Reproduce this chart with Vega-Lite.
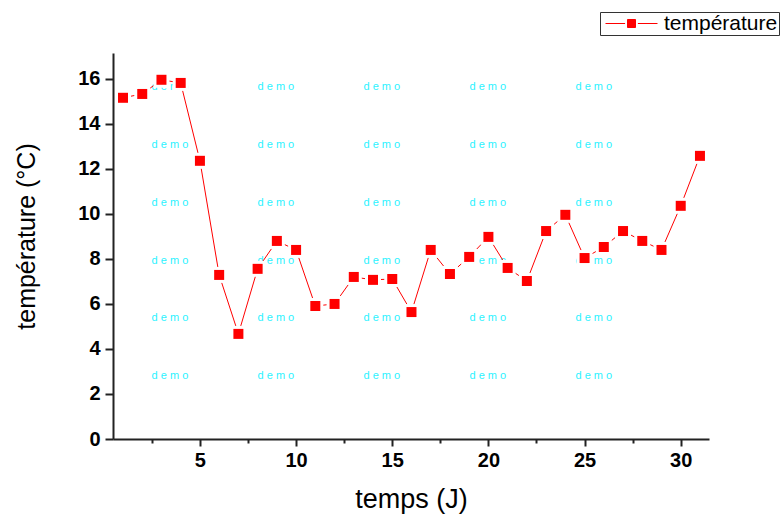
{
  "$schema": "https://vega.github.io/schema/vega-lite/v6.json",
  "width": 596,
  "height": 386,
  "autosize": {"type": "none"},
  "padding": {"left": 113, "top": 53, "right": 74, "bottom": 80},
  "background": "white",
  "config": {"view": {"stroke": null}, "font": "Liberation Sans"},
  "datasets": {
    "temp": [
      {"jour": 1, "t": 15.16}, {"jour": 2, "t": 15.33}, {"jour": 3, "t": 15.96}, {"jour": 4, "t": 15.82},
      {"jour": 5, "t": 12.36}, {"jour": 6, "t": 7.29}, {"jour": 7, "t": 4.67}, {"jour": 8, "t": 7.56},
      {"jour": 9, "t": 8.8}, {"jour": 10, "t": 8.4}, {"jour": 11, "t": 5.91}, {"jour": 12, "t": 6.0},
      {"jour": 13, "t": 7.2}, {"jour": 14, "t": 7.07}, {"jour": 15, "t": 7.11}, {"jour": 16, "t": 5.64},
      {"jour": 17, "t": 8.4}, {"jour": 18, "t": 7.33}, {"jour": 19, "t": 8.09}, {"jour": 20, "t": 8.98},
      {"jour": 21, "t": 7.6}, {"jour": 22, "t": 7.02}, {"jour": 23, "t": 9.24}, {"jour": 24, "t": 9.96},
      {"jour": 25, "t": 8.04}, {"jour": 26, "t": 8.53}, {"jour": 27, "t": 9.24}, {"jour": 28, "t": 8.8},
      {"jour": 29, "t": 8.4}, {"jour": 30, "t": 10.36}, {"jour": 31, "t": 12.58}
    ],
    "wm": [
      {"x": 3.44, "y": 15.65}, {"x": 8.95, "y": 15.65}, {"x": 14.46, "y": 15.65}, {"x": 19.97, "y": 15.65}, {"x": 25.48, "y": 15.65},
      {"x": 3.44, "y": 13.08}, {"x": 8.95, "y": 13.08}, {"x": 14.46, "y": 13.08}, {"x": 19.97, "y": 13.08}, {"x": 25.48, "y": 13.08},
      {"x": 3.44, "y": 10.5}, {"x": 8.95, "y": 10.5}, {"x": 14.46, "y": 10.5}, {"x": 19.97, "y": 10.5}, {"x": 25.48, "y": 10.5},
      {"x": 3.44, "y": 7.93}, {"x": 8.95, "y": 7.93}, {"x": 14.46, "y": 7.93}, {"x": 19.97, "y": 7.93}, {"x": 25.48, "y": 7.93},
      {"x": 3.44, "y": 5.36}, {"x": 8.95, "y": 5.36}, {"x": 14.46, "y": 5.36}, {"x": 19.97, "y": 5.36}, {"x": 25.48, "y": 5.36},
      {"x": 3.44, "y": 2.79}, {"x": 8.95, "y": 2.79}, {"x": 14.46, "y": 2.79}, {"x": 19.97, "y": 2.79}, {"x": 25.48, "y": 2.79}
    ]
  },
  "layer": [
    {
      "data": {"name": "wm"},
      "mark": {"type": "text", "text": "d e m o", "fontSize": 11, "color": "#2cf2ff", "font": "Liberation Sans"},
      "encoding": {
        "x": {"field": "x", "type": "quantitative", "scale": {"domain": [0.48, 31.47], "nice": false, "zero": false}},
        "y": {"field": "y", "type": "quantitative", "scale": {"domain": [0, 17.15], "nice": false}}
      }
    },
    {
      "data": {"name": "temp"},
      "mark": {"type": "line", "color": "#ff0000", "strokeWidth": 1},
      "encoding": {
        "x": {"field": "jour", "type": "quantitative"},
        "y": {"field": "t", "type": "quantitative"}
      }
    },
    {
      "data": {"name": "temp"},
      "mark": {"type": "point", "shape": "square", "filled": true, "size": 256, "color": "white", "opacity": 1},
      "encoding": {
        "x": {"field": "jour", "type": "quantitative"},
        "y": {"field": "t", "type": "quantitative"}
      }
    },
    {
      "data": {"name": "temp"},
      "mark": {"type": "point", "shape": "square", "filled": true, "size": 100, "opacity": 1},
      "encoding": {
        "x": {
          "field": "jour", "type": "quantitative",
          "axis": {
            "title": "temps (J)",
            "titleFont": "Liberation Sans", "titleFontSize": 27, "titleFontWeight": "normal", "titleColor": "#000",
            "titlePadding": 16,
            "values": [2.5, 5, 7.5, 10, 12.5, 15, 17.5, 20, 22.5, 25, 27.5, 30],
            "labelExpr": "datum.value % 5 === 0 ? datum.label : ''",
            "labelFont": "Liberation Sans", "labelFontSize": 20, "labelFontWeight": "bold", "labelColor": "#000",
            "labelPadding": 4,
            "tickSize": {"condition": {"test": "datum.value % 5 === 0", "value": 7}, "value": 4},
            "tickWidth": 2, "tickColor": "#222",
            "domainColor": "#222", "domainWidth": 2,
            "grid": false, "labelFlush": false, "labelOverlap": false
          }
        },
        "y": {
          "field": "t", "type": "quantitative",
          "axis": {
            "title": "température (°C)",
            "titleFont": "Liberation Sans", "titleFontSize": 25, "titleFontWeight": "normal", "titleColor": "#000",
            "titlePadding": 38,
            "titleY": 183,
            "values": [0, 1, 2, 3, 4, 5, 6, 7, 8, 9, 10, 11, 12, 13, 14, 15, 16, 17],
            "labelExpr": "datum.value % 2 === 0 ? datum.label : ''",
            "labelFont": "Liberation Sans", "labelFontSize": 20, "labelFontWeight": "bold", "labelColor": "#000",
            "labelPadding": 5,
            "tickSize": {"condition": {"test": "datum.value % 2 === 0", "value": 8}, "value": 5},
            "tickWidth": 2, "tickColor": "#222",
            "domainColor": "#222", "domainWidth": 2,
            "grid": false, "labelFlush": false, "labelOverlap": false
          }
        },
        "color": {
          "datum": "température",
          "type": "nominal",
          "scale": {"range": ["#ff0000"]},
          "legend": {
            "title": null,
            "orient": "none",
            "legendX": 487,
            "legendY": -41,
            "direction": "vertical",
            "strokeColor": "#333",
            "fillColor": "white",
            "padding": 1,
            "symbolType": "M-8,0H-3.1M0.1,0H5M-2.5,-1H-0.5V1H-2.5Z",
            "symbolSize": 64,
            "symbolStrokeWidth": 1,
            "symbolFillColor": "#ff0000",
            "symbolStrokeColor": "#ff0000",
            "symbolOffset": 26,
            "labelOffset": 16,
            "labelFont": "Liberation Sans",
            "labelFontSize": 21,
            "labelColor": "#000",
            "labelLimit": 300
          }
        }
      }
    }
  ]
}
